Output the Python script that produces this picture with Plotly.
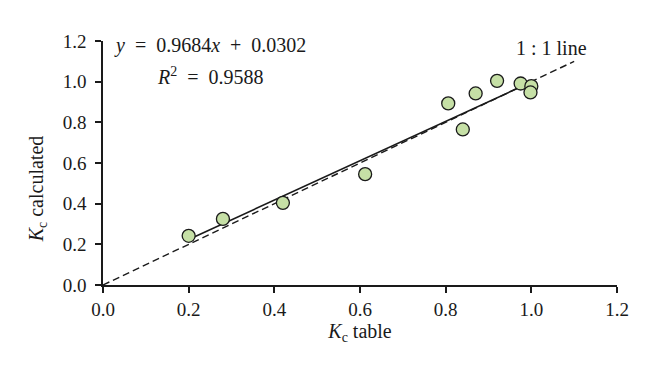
import plotly.graph_objects as go

kc_table = [0.20, 0.28, 0.42, 0.612, 0.806, 0.84, 0.87, 0.92, 0.975, 1.0, 0.998]
kc_calc = [0.242, 0.325, 0.404, 0.545, 0.893, 0.765, 0.942, 1.004, 0.991, 0.978, 0.947]
slope = 0.9684
intercept = 0.0302
fit_x = [0.2, 1.0]
fit_y = [slope * v + intercept for v in fit_x]
one_x = [0.0, 1.1]
one_y = [0.0, 1.1]
ticks = [0.0, 0.2, 0.4, 0.6, 0.8, 1.0, 1.2]
tick_text = ["0.0", "0.2", "0.4", "0.6", "0.8", "1.0", "1.2"]

FONT = "Liberation Serif, Times New Roman, serif"
INK = "#1a1a1a"

fig = go.Figure()
fig.add_trace(go.Scatter(x=one_x, y=one_y, mode="lines",
                         line=dict(color=INK, width=1.4, dash="7px,4px"),
                         showlegend=False, hoverinfo="skip"))
fig.add_trace(go.Scatter(x=fit_x, y=fit_y, mode="lines",
                         line=dict(color=INK, width=1.6),
                         showlegend=False, hoverinfo="skip"))
fig.add_trace(go.Scatter(x=kc_table, y=kc_calc, mode="markers",
                         marker=dict(size=13, color="#c6e0a6",
                                     line=dict(color=INK, width=1.3)),
                         showlegend=False))

axis_common = dict(
    range=[0, 1.2], tickvals=ticks, ticktext=tick_text,
    showline=True, linecolor=INK, linewidth=1.5,
    ticks="outside", ticklen=6, tickcolor=INK, tickwidth=1.5,
    showgrid=False, zeroline=False,
    tickfont=dict(family=FONT, size=19, color=INK),
)

# page body has an 8px margin, compensate so the plot area sits at 103..617 x 41..285
fig.update_layout(
    width=660, height=380,
    margin=dict(l=95, r=51, t=33, b=103),
    paper_bgcolor="white", plot_bgcolor="white",
    font=dict(family=FONT, size=19, color=INK),
    xaxis=dict(**axis_common,
               title=dict(text="<i>K</i><sub>c</sub> table",
                          font=dict(family=FONT, size=20), standoff=4)),
    yaxis=dict(**axis_common, ticklabelstandoff=5),
    annotations=[
        dict(x=-0.127, y=0.395, xref="paper", yref="paper", showarrow=False,
             textangle=-90, xanchor="center", yanchor="middle",
             text="<i>K</i><sub>c</sub> calculated",
             font=dict(family=FONT, size=20)),
        dict(x=0.25, y=1.179, xref="x", yref="y", showarrow=False,
             text="<i>y</i>  =  0.9684<i>x</i>  +  0.0302",
             font=dict(family=FONT, size=20)),
        dict(x=0.25, y=1.028, xref="x", yref="y", showarrow=False,
             text="<i>R</i><sup>2</sup>  =  0.9588",
             font=dict(family=FONT, size=20)),
        dict(x=1.047, y=1.165, xref="x", yref="y", showarrow=False,
             text="1 : 1 line", font=dict(family=FONT, size=20)),
    ],
)

fig.write_html("out.html")
